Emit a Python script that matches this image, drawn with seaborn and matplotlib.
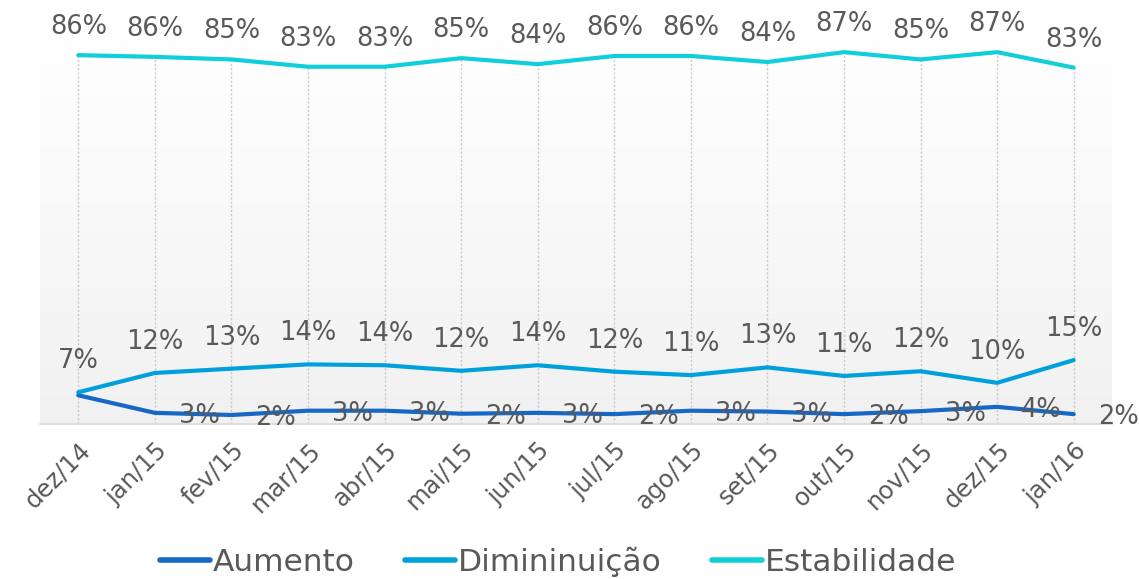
import numpy as np
import pandas as pd
import matplotlib
matplotlib.use("Agg")
import matplotlib.pyplot as plt
import seaborn as sns

months = ["dez/14", "jan/15", "fev/15", "mar/15", "abr/15", "mai/15", "jun/15",
          "jul/15", "ago/15", "set/15", "out/15", "nov/15", "dez/15", "jan/16"]
aumento = [6.7, 2.6, 2.1, 3.1, 3.1, 2.4, 2.6, 2.3, 3.1, 2.9, 2.3, 3.0, 4.0, 2.3]
diminuicao = [7.4, 11.9, 12.9, 13.9, 13.7, 12.4, 13.7, 12.2, 11.4, 13.2, 11.2, 12.3, 9.6, 14.9]
estabilidade = [86.0, 85.6, 85.0, 83.3, 83.3, 85.3, 83.9, 85.8, 85.8, 84.4, 86.7, 85.0, 86.7, 83.1]
series_names = ["Aumento", "Dimininuição", "Estabilidade"]
colors = ["#1767c4", "#00a0dc", "#10cfda"]

sns.set_theme(style="white")
plt.rcParams['font.family'] = ['DejaVu Sans']

df = pd.DataFrame({
    "mes": months * 3,
    "x": list(range(len(months))) * 3,
    "valor": aumento + diminuicao + estabilidade,
    "serie": [series_names[0]] * len(months) + [series_names[1]] * len(months) + [series_names[2]] * len(months),
})

fig = plt.figure(figsize=(11.39, 5.79), dpi=100)
ax = fig.add_axes([40 / 1139, 1 - 424 / 579, (1112 - 40) / 1139, (424 - 38) / 579])

n = len(months)
ax.set_xlim(-0.5, n - 0.5)
ax.set_ylim(0, 90)

# gradient background
grad = np.linspace(0, 1, 256).reshape(-1, 1)
cmap = matplotlib.colors.LinearSegmentedColormap.from_list("bg", ["#f1f1f1", "#ffffff"])
ax.imshow(grad, aspect="auto", cmap=cmap, origin="lower",
          extent=(-0.5, n - 0.5, 0, 90), zorder=0)

# drop lines
ax.vlines(range(n), 0, estabilidade, colors="#c8c8c8", linestyles=(0, (1.5, 1.5)),
          linewidth=1.0, zorder=1)

sns.lineplot(data=df, x="x", y="valor", hue="serie", hue_order=series_names,
             palette=colors, linewidth=3.0, ax=ax, sort=False, legend=True,
             zorder=3)

lab_color = "#595959"
fs = 18.5
for i in range(n):
    ax.annotate(f"{int(estabilidade[i] + 0.5)}%", (i, estabilidade[i]),
                xytext=(0, 28), textcoords="offset pixels", ha="center", va="center",
                fontsize=fs, color=lab_color, zorder=5)
    ax.annotate(f"{int(diminuicao[i] + 0.5)}%", (i, diminuicao[i]),
                xytext=(0, 31), textcoords="offset pixels", ha="center", va="center",
                fontsize=fs, color=lab_color, zorder=5)
    if i > 0:
        ax.annotate(f"{int(aumento[i] + 0.5)}%", (i, aumento[i]),
                    xytext=(24, -3), textcoords="offset pixels", ha="left", va="center",
                    fontsize=fs, color=lab_color, zorder=5)

# axes styling
for s in ["top", "right", "left"]:
    ax.spines[s].set_visible(False)
ax.spines["bottom"].set_color("#d9d9d9")
ax.spines["bottom"].set_linewidth(1.2)
ax.set_yticks([])
ax.set_xticks(range(n))
ax.set_xticklabels(months, rotation=45, ha="right", rotation_mode="anchor",
                   fontsize=17.5, color=lab_color)
ax.set_xticks(np.arange(-0.5, n, 1.0), minor=True)
ax.tick_params(axis="x", which="major", length=0, pad=10)
ax.tick_params(axis="x", which="minor", length=7, color="#d9d9d9", width=1.2, direction="out")
ax.set_xlabel("")
ax.set_ylabel("")

handles, labels = ax.get_legend_handles_labels()
for h in handles:
    h.set_linewidth(4)
leg = fig.legend(handles, labels, loc="center", bbox_to_anchor=(558 / 1139, 1 - 562 / 579),
                 ncol=3, frameon=False, fontsize=22.5, handlelength=1.6, columnspacing=1.6,
                 handletextpad=0.1, labelcolor=lab_color)
ax.get_legend().remove()

fig.savefig("out.png", dpi=100, facecolor="white")
